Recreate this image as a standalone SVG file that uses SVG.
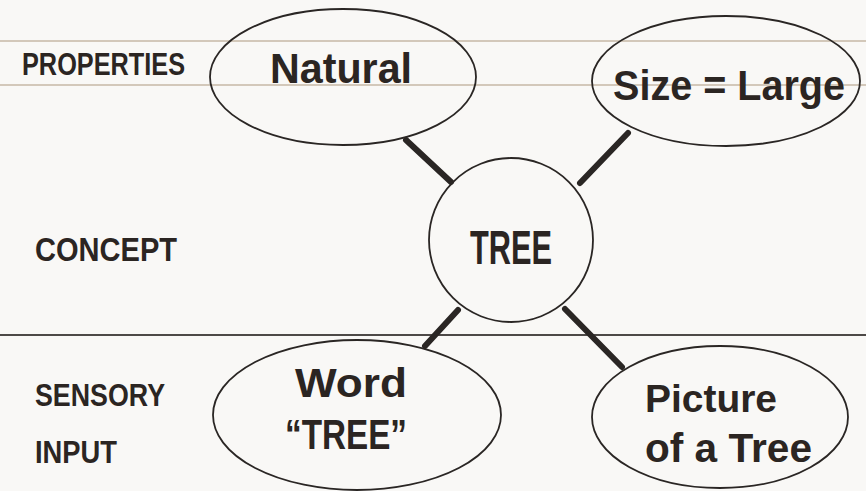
<svg xmlns="http://www.w3.org/2000/svg" width="866" height="491" viewBox="0 0 866 491">
  <style>
    .bg { fill: #f9f8f6; }
    .rule { stroke: #c6b8a6; stroke-width: 1.5; fill: none; }
    .divider { stroke: #4d4947; stroke-width: 2; fill: none; }
    .node { fill: none; stroke: #2a2624; stroke-width: 1.8; }
    .link { stroke: #2a2624; stroke-width: 6; stroke-linecap: round; }
    .row { font-family: "Liberation Sans", Arial, sans-serif; font-weight: bold; fill: #2b2522; }
    .big { font-family: "Liberation Sans", Arial, sans-serif; font-weight: bold; fill: #2b2522; }
  </style>

  <rect class="bg" x="0" y="0" width="866" height="491"/>

  <!-- row rules -->
  <g id="rules">
    <line class="rule" x1="0" y1="41" x2="866" y2="41"/>
    <line class="rule" x1="0" y1="85" x2="866" y2="85"/>
    <line class="divider" x1="0" y1="335" x2="866" y2="335"/>
  </g>

  <!-- row labels -->
  <g id="row-labels">
    <text class="row" x="22" y="75" font-size="31" textLength="163" lengthAdjust="spacingAndGlyphs">PROPERTIES</text>
    <text class="row" x="35" y="261" font-size="33" textLength="142" lengthAdjust="spacingAndGlyphs">CONCEPT</text>
    <text class="row" x="35" y="406" font-size="32" textLength="130" lengthAdjust="spacingAndGlyphs">SENSORY</text>
    <text class="row" x="35" y="463" font-size="32" textLength="82" lengthAdjust="spacingAndGlyphs">INPUT</text>
  </g>

  <!-- connectors -->
  <g id="connectors">
    <line class="link" x1="406" y1="140" x2="451" y2="182"/>
    <line class="link" x1="628" y1="133" x2="580" y2="183"/>
    <line class="link" x1="458" y1="310" x2="425" y2="346"/>
    <line class="link" x1="565" y1="309" x2="622" y2="367"/>
  </g>

  <g id="natural">
    <ellipse class="node" cx="343" cy="77" rx="133" ry="68"/>
    <text class="big" x="270" y="83" font-size="42" textLength="142" lengthAdjust="spacingAndGlyphs">Natural</text>
  </g>

  <g id="size-large">
    <ellipse class="node" cx="726" cy="81" rx="134" ry="65"/>
    <text class="big" x="613" y="100" font-size="43" textLength="232" lengthAdjust="spacingAndGlyphs">Size = Large</text>
  </g>

  <g id="tree">
    <circle class="node" cx="511" cy="240" r="82"/>
    <text class="big" x="470" y="264" font-size="48" textLength="82" lengthAdjust="spacingAndGlyphs">TREE</text>
  </g>

  <g id="word-tree">
    <ellipse class="node" cx="357" cy="415" rx="144" ry="75"/>
    <text class="big" x="295" y="397" font-size="41" textLength="112" lengthAdjust="spacingAndGlyphs">Word</text>
    <text class="big" x="285" y="449" font-size="43" textLength="122" lengthAdjust="spacingAndGlyphs">“TREE”</text>
  </g>

  <g id="picture-of-a-tree">
    <ellipse class="node" cx="720" cy="417" rx="128" ry="71"/>
    <text class="big" x="645" y="412" font-size="39" textLength="132" lengthAdjust="spacingAndGlyphs">Picture</text>
    <text class="big" x="645" y="462" font-size="40" textLength="167" lengthAdjust="spacingAndGlyphs">of a Tree</text>
  </g>
</svg>
